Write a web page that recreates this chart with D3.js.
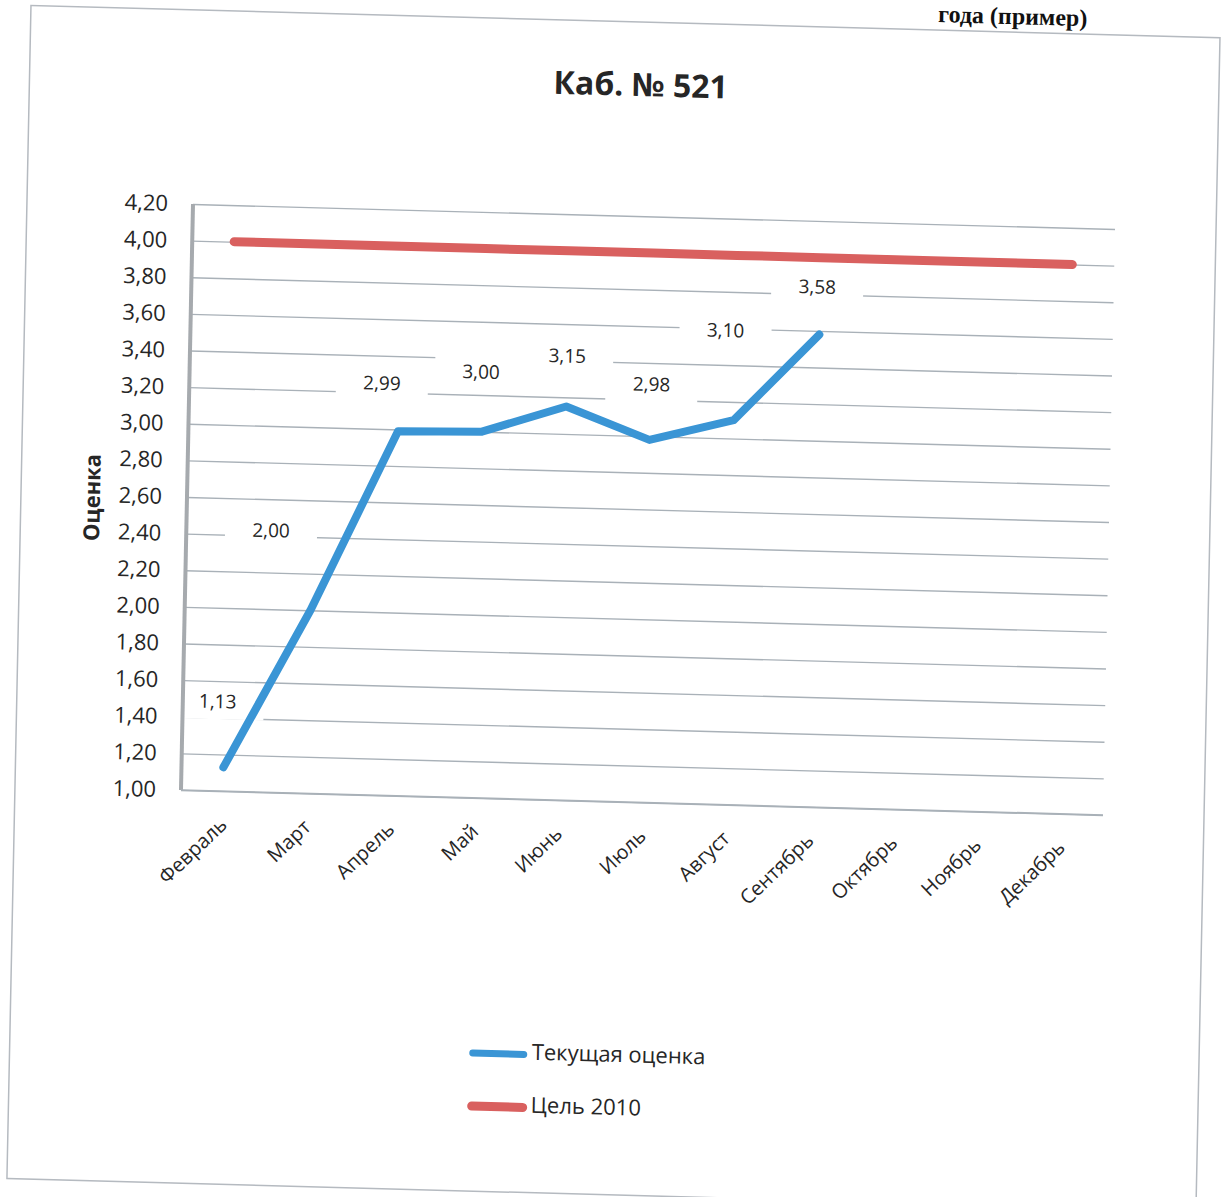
<!DOCTYPE html>
<html>
<head>
<meta charset="utf-8">
<script src="https://cdn.jsdelivr.net/npm/d3@7"></script>
<style>
  body { margin: 0; background: #fff; }
  text { font-family: "Open Sans", sans-serif; fill: #262626; }
</style>
</head>
<body>
<div id="container"></div>
<script>
let months = ["Февраль", "Март", "Апрель", "Май", "Июнь", "Июль", "Август", "Сентябрь", "Октябрь", "Ноябрь", "Декабрь"];
let currentScore = [1.13, 2.00, 2.99, 3.00, 3.15, 2.98, 3.10, 3.58];
let goal2010 = [4.00, 4.00, 4.00, 4.00, 4.00, 4.00, 4.00, 4.00, 4.00, 4.00, 4.00];
let yTicks = [1.00, 1.20, 1.40, 1.60, 1.80, 2.00, 2.20, 2.40, 2.60, 2.80, 3.00, 3.20, 3.40, 3.60, 3.80, 4.00, 4.20];
let seriesNames = ["Текущая оценка", "Цель 2010"];
let chartTitle = "Каб. № 521";
let yTitle = "Оценка";
let pageHeading = "года (пример)";

// data labels were dragged by hand in the original, so each one has its own offset
let labelShift = [[-7, -66], [-41, -79], [-17, -48], [-2, -60], [0, -51], [1, -56], [-10, -90], [-3, -48]];

let blue = "#3a95d5";
let red = "#d9605f";
let ox = 193, oy = 204, plotW = 922, plotH = 586;

let comma = d3.formatLocale({decimal: ",", thousands: " ", grouping: [3], currency: ["", ""]}).format(".2f");

let svg = d3.select("#container")
  .append("svg")
    .attr("width", 1223)
    .attr("height", 1197);

// the page was scanned a little crooked
let page = svg.append("g")
  .attr("transform", "translate(193,204) matrix(1,0.0271,-0.0205,1,0,0) translate(-193,-204)");

page.append("rect")
  .attr("x", 27).attr("y", 10)
  .attr("width", 1189).attr("height", 1173)
  .attr("fill", "none")
  .attr("stroke", "#b5bac0")
  .attr("stroke-width", 1.5);

page.append("text")
  .attr("x", 1083).attr("y", 2)
  .attr("text-anchor", "end")
  .style("font-family", "'Liberation Serif', serif")
  .style("font-weight", "bold")
  .style("font-size", "24px")
  .style("fill", "#111")
  .text(pageHeading);

let x = d3.scalePoint().domain(months).range([ox, ox + plotW]).padding(0.5);
let y = d3.scaleLinear().domain([1.0, 4.2]).range([oy + plotH, oy]);

// gridlines + y tick labels
let yAxis = page.append("g")
  .attr("transform", "translate(" + ox + ",0)")
  .call(d3.axisLeft(y).tickValues(yTicks).tickSize(-plotW).tickPadding(25).tickFormat(comma));
yAxis.select(".domain").remove();
yAxis.selectAll(".tick line")
  .attr("stroke", "#a9b1b8")
  .attr("stroke-width", 1.4);
yAxis.selectAll(".tick text")
  .style("font-size", "22px")
  .style("font-family", "'Open Sans', sans-serif")
  .attr("fill", "#262626");

// white boxes behind the data labels cut the gridlines
let labelPos = currentScore.map(function(v, i) {
  return {v: v, x: x(months[i]) + labelShift[i][0], y: y(v) + labelShift[i][1]};
});

page.selectAll(".labelBox").data(labelPos).enter()
  .append("rect")
    .attr("class", "labelBox")
    .attr("x", d => d.x - 46)
    .attr("y", d => d.y - 18)
    .attr("width", 92)
    .attr("height", 36)
    .attr("fill", "#fff");

// axis lines
page.append("line")
  .attr("x1", ox).attr("x2", ox)
  .attr("y1", oy).attr("y2", oy + plotH)
  .attr("stroke", "#a6aaae")
  .attr("stroke-width", 4);
page.append("line")
  .attr("x1", ox).attr("x2", ox + plotW)
  .attr("y1", oy + plotH).attr("y2", oy + plotH)
  .attr("stroke", "#a9b1b8")
  .attr("stroke-width", 1.6);

// month labels
page.selectAll(".month").data(months).enter()
  .append("text")
    .attr("class", "month")
    .attr("text-anchor", "end")
    .attr("transform", d => "translate(" + (x(d) + 6) + "," + (oy + plotH + 35) + ") rotate(-45)")
    .style("font-size", "20px")
    .text(d => d);

let line = d3.line()
  .x((d, i) => x(months[i]))
  .y(d => y(d));

page.append("path")
  .datum(goal2010)
  .attr("d", line)
  .attr("fill", "none")
  .attr("stroke", red)
  .attr("stroke-width", 9)
  .attr("stroke-linecap", "round")
  .attr("stroke-linejoin", "round");

page.append("path")
  .datum(currentScore)
  .attr("d", line)
  .attr("fill", "none")
  .attr("stroke", blue)
  .attr("stroke-width", 8)
  .attr("stroke-linecap", "round")
  .attr("stroke-linejoin", "round");

page.selectAll(".valueLabel").data(labelPos).enter()
  .append("text")
    .attr("class", "valueLabel")
    .attr("x", d => d.x)
    .attr("y", d => d.y)
    .attr("text-anchor", "middle")
    .attr("dominant-baseline", "central")
    .style("font-size", "19px")
    .text(d => comma(d.v));

// titles
page.append("text")
  .attr("x", 638).attr("y", 84)
  .attr("text-anchor", "middle")
  .style("font-size", "32px")
  .style("font-weight", "bold")
  .text(chartTitle);

page.append("text")
  .attr("transform", "translate(106,500) rotate(-90)")
  .attr("text-anchor", "middle")
  .style("font-size", "22px")
  .style("font-weight", "bold")
  .text(yTitle);

// legend
let legend = page.selectAll(".legend").data(seriesNames).enter()
  .append("g")
    .attr("class", "legend")
    .attr("transform", (d, i) => "translate(0," + (1045 + i * 53) + ")");

legend.append("line")
  .attr("x1", 490).attr("x2", 541)
  .attr("y1", 0).attr("y2", 0)
  .attr("stroke", (d, i) => i == 0 ? blue : red)
  .attr("stroke-width", (d, i) => i == 0 ? 7 : 9)
  .attr("stroke-linecap", "round");

legend.append("text")
  .attr("x", 549)
  .attr("y", -4)
  .attr("dominant-baseline", "central")
  .style("font-size", "22px")
  .text(d => d);
</script>
</body>
</html>
